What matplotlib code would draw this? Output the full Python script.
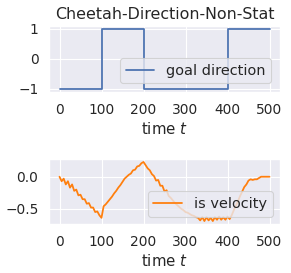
import matplotlib
matplotlib.use("Agg")
import matplotlib.pyplot as plt
import seaborn as sns
import numpy as np

# goal direction: change points and values
goal_edges = [0, 100, 200, 400, 500]
goal_values = [-1, 1, -1, 1, 1]

# velocity sampled every 5 steps
vel_t = list(range(0, 501, 5))
vel_values = [
    0.00, -0.07, -0.03, -0.12, -0.07, -0.17, -0.12, -0.22, -0.20, -0.29,
    -0.28, -0.35, -0.35, -0.42, -0.41, -0.48, -0.48, -0.55, -0.54, -0.60,
    -0.64, -0.46, -0.43, -0.39, -0.35, -0.31, -0.26, -0.22, -0.17, -0.13,
    -0.08, -0.03, 0.00, 0.03, 0.05, 0.10, 0.11, 0.16, 0.17, 0.21,
    0.23, 0.18, 0.13, 0.10, 0.04, 0.01, -0.06, -0.05, -0.14, -0.14,
    -0.23, -0.21, -0.30, -0.33, -0.37, -0.41, -0.44, -0.47, -0.50, -0.52,
    -0.55, -0.56, -0.58, -0.60, -0.61, -0.63, -0.64, -0.68, -0.63, -0.69,
    -0.63, -0.68, -0.64, -0.69, -0.63, -0.67, -0.62, -0.67, -0.63, -0.67,
    -0.62, -0.66, -0.60, -0.52, -0.45, -0.38, -0.30, -0.23, -0.16, -0.12,
    -0.06, -0.04, -0.05, -0.04, -0.04, -0.02, 0.00, 0.00, 0.00, 0.00,
    0.00,
]

sns.set_theme(style="darkgrid", font_scale=1.13)
plt.rcParams['font.family'] = ['DejaVu Sans']
plt.rcParams['lines.linewidth'] = 1.6

fig = plt.figure(figsize=(291 / 80, 273 / 80), dpi=80)
ax1 = fig.add_axes([49 / 291, 1 - 92 / 273, 231 / 291, 66 / 273])
ax2 = fig.add_axes([49 / 291, 1 - 224 / 273, 231 / 291, 65 / 273])

ax1.step(goal_edges, goal_values, where='post', color='#4C72B0', label='goal direction')
ax1.set_yticks([-1, 0, 1])
ax1.set_xticks([0, 100, 200, 300, 400, 500])
ax1.set_title('Cheetah-Direction-Non-Stat', fontsize=14.3)
ax1.set_xlabel('time $t$')
ax1.legend(loc='lower right', fontsize=13.0, borderaxespad=0.6)

ax2.plot(vel_t, vel_values, color='#FF7F0E', label='is velocity')
ax2.set_yticks([-0.5, 0.0])
ax2.set_xticks([0, 100, 200, 300, 400, 500])
ax2.set_xlabel('time $t$')
ax2.legend(loc='lower right', fontsize=13.0)

fig.savefig('out.png', dpi=80)
